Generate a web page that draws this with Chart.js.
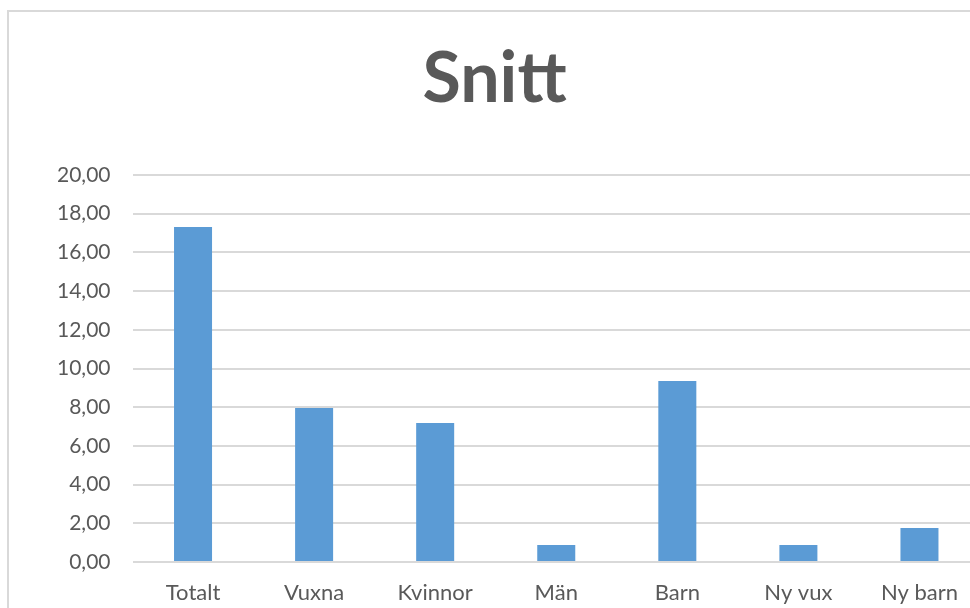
<!DOCTYPE html>
<html>
<head>
<meta charset="utf-8">
<script src="https://cdn.jsdelivr.net/npm/chart.js@4.4.1/dist/chart.umd.min.js"></script>
<style>
  html, body { margin: 0; padding: 0; background: #fff; overflow: hidden; }
  #box {
    position: absolute; left: 7px; top: 10px;
    width: 990px; height: 620px;
    border: 2px solid #d9d9d9;
  }
  #wrap { position: absolute; left: 0; top: 0; width: 971px; height: 596px; }
</style>
</head>
<body>
<div id="box"><div id="wrap"><canvas id="chart"></canvas></div></div>
<script>
// data
var categories = ['Totalt', 'Vuxna', 'Kvinnor', 'Män', 'Barn', 'Ny vux', 'Ny barn'];
var values = [17.31, 7.96, 7.18, 0.88, 9.35, 0.88, 1.76];
var yMin = 0, yMax = 20, yStep = 2;

var grey = '#595959';
var font = 'Lato, "Open Sans", sans-serif';

new Chart(document.getElementById('chart'), {
  type: 'bar',
  data: {
    labels: categories,
    datasets: [{
      label: 'Snitt',
      data: values,
      backgroundColor: '#5b9bd5',
      borderWidth: 0,
      categoryPercentage: 1,
      barPercentage: 0.314
    }]
  },
  options: {
    responsive: true,
    maintainAspectRatio: false,
    animation: false,
    layout: { padding: 0 },
    plugins: {
      legend: { display: false },
      tooltip: { enabled: false },
      title: {
        display: true,
        text: 'Snitt',
        color: grey,
        font: { family: font, size: 70, weight: 'bold', lineHeight: 1.2 },
        padding: { top: 25, bottom: 54 }
      }
    },
    scales: {
      x: {
        grid: { display: false },
        border: { display: false },
        ticks: {
          color: grey,
          font: { family: font, size: 22 },
          padding: 10,
          maxRotation: 0
        },
        afterFit: function (s) { s.height = 46; }
      },
      y: {
        min: yMin,
        max: yMax,
        border: { display: false },
        grid: { color: '#d9d9d9', lineWidth: 2, drawTicks: false },
        ticks: {
          stepSize: yStep,
          color: grey,
          font: { family: font, size: 21 },
          padding: 22,
          callback: function (v) { return v.toFixed(2).replace('.', ','); }
        },
        afterFit: function (s) { s.width = 123.5; }
      }
    }
  }
});
</script>
</body>
</html>
